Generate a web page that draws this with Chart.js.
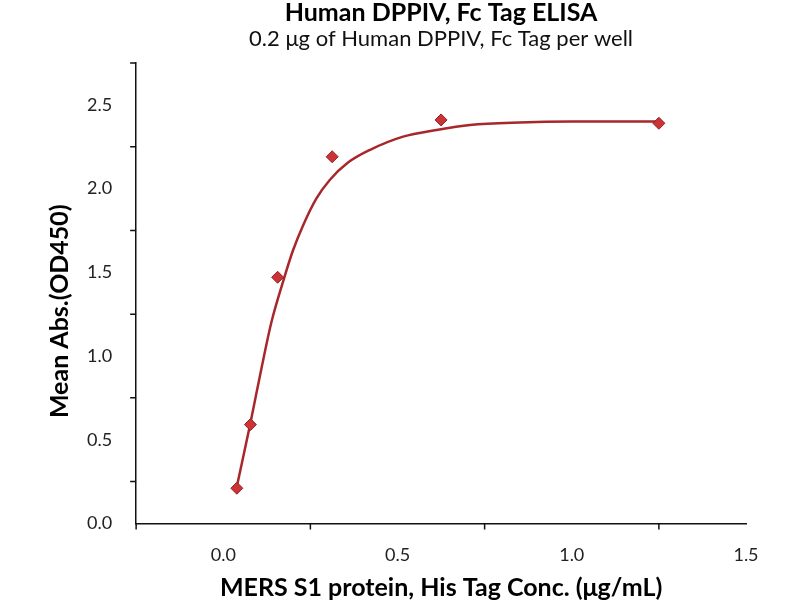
<!DOCTYPE html>
<html>
<head>
<meta charset="utf-8">
<script src="https://cdn.jsdelivr.net/npm/chart.js@4/dist/chart.umd.min.js"></script>
<style>
  html, body { margin: 0; padding: 0; background: #fff; }
  #wrap { width: 800px; height: 600px; }
</style>
</head>
<body>
<div id="wrap"><canvas id="elisaChart"></canvas></div>
<script>
// measured points
const concX = [0.039, 0.078, 0.156, 0.3125, 0.625, 1.25];
const absY = [0.21, 0.59, 1.47, 2.19, 2.41, 2.39];

// fitted curve
const fitX = [0.039, 0.078, 0.110, 0.138, 0.171, 0.200, 0.229, 0.267, 0.305, 0.358, 0.420, 0.516, 0.612, 0.708, 0.850, 1.000, 1.250];
const fitY = [0.22, 0.60, 0.93, 1.20, 1.44, 1.63, 1.78, 1.94, 2.05, 2.155, 2.23, 2.31, 2.35, 2.38, 2.395, 2.40, 2.40];

const xTicks = [0.0, 0.5, 1.0, 1.5];
const xMinorTicks = [-0.25, 0.25, 0.75, 1.25];
const yTicks = [0.0, 0.5, 1.0, 1.5, 2.0, 2.5];
const yMinorTicks = [0.25, 0.75, 1.25, 1.75, 2.25, 2.75];

const FONT = 'Lato, "Open Sans", sans-serif';
const Y_TITLE = 'Mean Abs.(OD450)';

// short ticks between the labelled ones, and the y title sitting a bit low
const axisExtras = {
    id: 'axisExtras',
    afterDraw(chart) {
        const ctx = chart.ctx;
        const xs = chart.scales.x;
        const ys = chart.scales.y;
        ctx.save();
        ctx.strokeStyle = '#111';
        ctx.lineWidth = 1.5;
        ctx.beginPath();
        xMinorTicks.forEach(v => {
            const px = xs.getPixelForValue(v);
            ctx.moveTo(px, ys.bottom);
            ctx.lineTo(px, ys.bottom + 6);
        });
        yMinorTicks.forEach(v => {
            const py = ys.getPixelForValue(v);
            ctx.moveTo(xs.left, py);
            ctx.lineTo(xs.left - 6, py);
        });
        ctx.stroke();

        ctx.translate(ys.left + 15, (ys.top + ys.bottom) / 2 + 18);
        ctx.rotate(-Math.PI / 2);
        ctx.fillStyle = '#000';
        ctx.font = 'bold 25px ' + FONT;
        ctx.textAlign = 'center';
        ctx.textBaseline = 'middle';
        ctx.fillText(Y_TITLE, 0, 0);
        ctx.restore();
    }
};

const ctx = document.getElementById('elisaChart').getContext('2d');
new Chart(ctx, {
    type: 'scatter',
    data: {
        datasets: [{
            label: 'Fit',
            data: fitX.map((x, i) => ({ x: x, y: fitY[i] })),
            showLine: true,
            borderColor: '#a8272b',
            borderWidth: 2.5,
            pointRadius: 0,
            cubicInterpolationMode: 'monotone',
            order: 2
        }, {
            label: 'Mean Abs.',
            data: concX.map((x, i) => ({ x: x, y: absY[i] })),
            showLine: false,
            pointStyle: 'rectRot',
            pointRadius: 6,
            backgroundColor: '#cc3336',
            borderColor: '#8e2326',
            borderWidth: 1,
            order: 1
        }]
    },
    options: {
        responsive: true,
        maintainAspectRatio: false,
        animation: false,
        layout: { padding: { left: 45, right: 54, top: 0, bottom: 0 } },
        plugins: {
            legend: { display: false },
            tooltip: { enabled: false },
            title: {
                display: true,
                fullSize: false,
                text: 'Human DPPIV, Fc Tag ELISA',
                color: '#000',
                font: { family: FONT, size: 25, weight: 'bold', lineHeight: 1.0 },
                padding: { top: 0, bottom: 3 }
            },
            subtitle: {
                display: true,
                fullSize: false,
                text: '0.2 μg of Human DPPIV, Fc Tag per well',
                color: '#111',
                font: { family: FONT, size: 22, lineHeight: 1.0 },
                padding: { top: 0, bottom: 13 }
            }
        },
        scales: {
            x: {
                type: 'linear',
                min: -0.25,
                max: 1.5,
                afterBuildTicks: s => { s.ticks = xTicks.map(v => ({ value: v })); },
                grid: { display: false, drawTicks: true, tickLength: 12, tickColor: '#111', tickWidth: 1.5 },
                border: { display: true, color: '#111', width: 1.5 },
                ticks: {
                    color: '#222',
                    font: { family: FONT, size: 18 },
                    padding: 9,
                    callback: v => v.toFixed(1)
                },
                title: {
                    display: true,
                    text: 'MERS S1 protein, His Tag Conc. (μg/mL)',
                    color: '#000',
                    font: { family: FONT, size: 25, weight: 'bold', lineHeight: 1.0 },
                    padding: { top: 0, bottom: 0 }
                }
            },
            y: {
                type: 'linear',
                min: 0,
                max: 2.75,
                afterBuildTicks: s => { s.ticks = yTicks.map(v => ({ value: v })); },
                grid: { display: false, drawTicks: true, tickLength: 12, tickColor: '#111', tickWidth: 1.5 },
                border: { display: true, color: '#111', width: 1.5 },
                ticks: {
                    color: '#222',
                    font: { family: FONT, size: 18 },
                    padding: 12,
                    callback: v => v.toFixed(1)
                },
                title: {
                    // space is kept here, the text itself is drawn by axisExtras
                    display: true,
                    text: Y_TITLE,
                    color: 'rgba(0,0,0,0)',
                    font: { family: FONT, size: 25, weight: 'bold' },
                    padding: { top: 0, bottom: 0 }
                }
            }
        }
    },
    plugins: [axisExtras]
});
</script>
</body>
</html>
